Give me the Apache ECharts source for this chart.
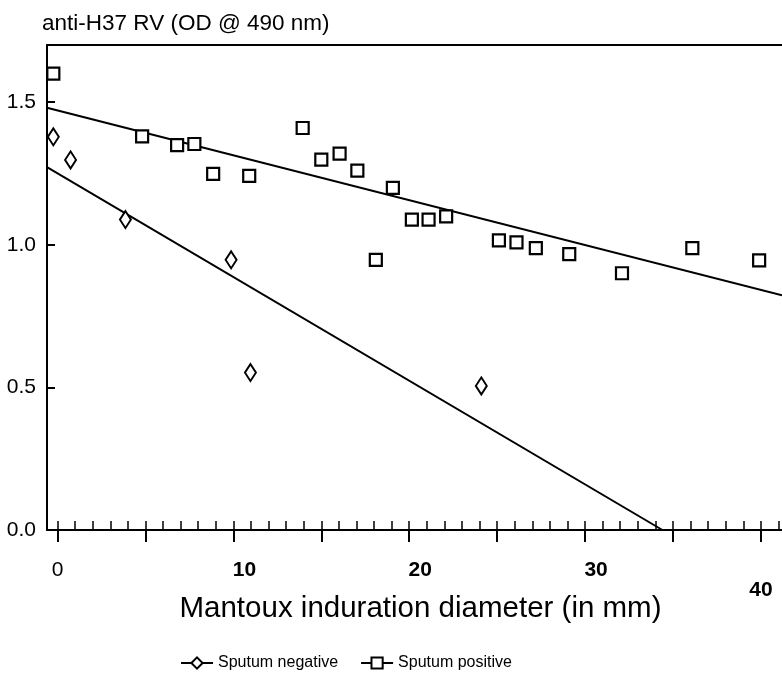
<!DOCTYPE html>
<html>
<head>
<meta charset="utf-8">
<script src="https://cdn.jsdelivr.net/npm/echarts@6/dist/echarts.min.js"></script>
<style>html,body{margin:0;padding:0;background:#fff}#c{width:782px;height:682px}</style>
</head>
<body>
<div id="c"></div>
<script>
// ---- data ----
const negX = [-0.24, 0.74, 3.86, 9.87, 10.97, 24.1];
const negY = [1.378, 1.297, 1.088, 0.947, 0.552, 0.505];
const posX = [-0.24, 4.81, 6.8, 7.78, 8.85, 10.9, 13.94, 15.0, 16.04, 17.05, 18.1, 19.07, 20.15, 21.1, 22.1, 25.1, 26.1, 27.2, 29.1, 32.1, 36.1, 39.9];
const posY = [1.60, 1.380, 1.349, 1.353, 1.248, 1.241, 1.409, 1.298, 1.319, 1.260, 0.947, 1.199, 1.088, 1.088, 1.099, 1.015, 1.008, 0.988, 0.967, 0.90, 0.988, 0.945];
const negFitX = [-0.6, 34.4];
const negFitY = [1.272, 0];
const posFitX = [-0.6, 41.2];
const posFitY = [1.48, 0.823];
const xMinorTicks = [0,1,2,3,4,5,6,7,8,9,10,11,12,13,14,15,16,17,18,19,20,21,22,23,24,25,26,27,28,29,30,31,32,33,34,35,36,37,38,39,40,41];
const xMajorTicks = [0,5,10,15,20,25,30,35,40];
const xTickLabels = [0,10,20,30,40];
const yTicks = [0,0.5,1,1.5];
const seriesNames = ['Sputum negative','Sputum positive'];

const zip = (a,b) => a.map((v,i)=>[v,b[i]]);
const FONT = '"Liberation Sans", Arial, Helvetica, sans-serif';
const X_MIN = -0.6, X_MAX = 41.2;

const chart = echarts.init(document.getElementById('c'), null, {renderer:'canvas'});
chart.setOption({
  animation:false,
  backgroundColor:'#fff',
  title:{
    text:'anti-H37 RV (OD @ 490 nm)',
    left:37, top:7,
    textStyle:{fontFamily:FONT, fontSize:22.5, fontWeight:'normal', color:'#000'}
  },
  grid:{left:47, right:0, top:45, bottom:152},
  legend:{
    data:seriesNames,
    left:175, top:650,
    itemWidth:32, itemHeight:14, itemGap:22,
    textStyle:{fontFamily:FONT, fontSize:16, color:'#000'},
    lineStyle:{width:2, color:'#000', opacity:1}
  },
  xAxis:[
    {
      type:'value', min:X_MIN, max:X_MAX, position:'bottom',
      splitLine:{show:false},
      axisLine:{show:true, onZero:false, lineStyle:{color:'#000', width:2}},
      axisTick:{show:true, inside:true, length:9, customValues:xMinorTicks, lineStyle:{color:'#000', width:1.5}},
      axisLabel:{show:false},
      name:'Mantoux induration diameter (in mm)',
      nameLocation:'middle', nameGap:64,
      nameTextStyle:{fontFamily:FONT, fontSize:29.5, color:'#000', padding:[0,0,0,12]}
    },
    {
      type:'value', min:X_MIN, max:X_MAX, position:'bottom',
      splitLine:{show:false},
      axisLine:{show:false, onZero:false},
      axisTick:{show:true, inside:false, length:12, customValues:xMajorTicks, lineStyle:{color:'#000', width:2}},
      axisLabel:{
        show:true, customValues:xTickLabels, margin:30,
        fontFamily:FONT, fontSize:21, fontWeight:'bold', color:'#000',
        formatter:v => v===40 ? '{low|40}' : (v===0 ? '{thin|0}' : '{shift|' + v + '}'),
        rich:{
          low:{fontFamily:FONT, fontSize:21, fontWeight:'bold', color:'#000', padding:[20,0,0,0]},
          thin:{fontFamily:FONT, fontSize:21, fontWeight:'normal', color:'#000'},
          shift:{fontFamily:FONT, fontSize:21, fontWeight:'bold', color:'#000', padding:[0,0,0,22]}
        }
      }
    },
    {
      type:'value', min:X_MIN, max:X_MAX, position:'top',
      splitLine:{show:false},
      axisLine:{show:true, onZero:false, lineStyle:{color:'#000', width:2}},
      axisTick:{show:false}, axisLabel:{show:false}
    }
  ],
  yAxis:{
    type:'value', min:0, max:1.7,
    splitLine:{show:false},
    axisLine:{show:true, onZero:false, lineStyle:{color:'#000', width:2}},
    axisTick:{show:true, inside:true, length:8, customValues:yTicks, lineStyle:{color:'#000', width:2}},
    axisLabel:{customValues:yTicks, margin:11, fontFamily:FONT, fontSize:21, color:'#000', formatter:v=>v.toFixed(1)}
  },
  series:[
    {
      name:'fitNeg', type:'line', data:zip(negFitX,negFitY), symbol:'none', silent:true,
      lineStyle:{color:'#000', width:2}, z:2
    },
    {
      name:'fitPos', type:'line', data:zip(posFitX,posFitY), symbol:'none', silent:true,
      lineStyle:{color:'#000', width:2}, z:2
    },
    {
      name:seriesNames[0], type:'line', data:zip(negX,negY),
      symbol:'diamond', symbolSize:[11,17], showSymbol:true,
      lineStyle:{opacity:0, width:0},
      itemStyle:{color:'#fff', borderColor:'#000', borderWidth:2},
      z:5
    },
    {
      name:seriesNames[1], type:'line', data:zip(posX,posY),
      symbol:'rect', symbolSize:12, showSymbol:true,
      lineStyle:{opacity:0, width:0},
      itemStyle:{color:'#fff', borderColor:'#000', borderWidth:2.2},
      z:5
    }
  ]
});
</script>
</body>
</html>
